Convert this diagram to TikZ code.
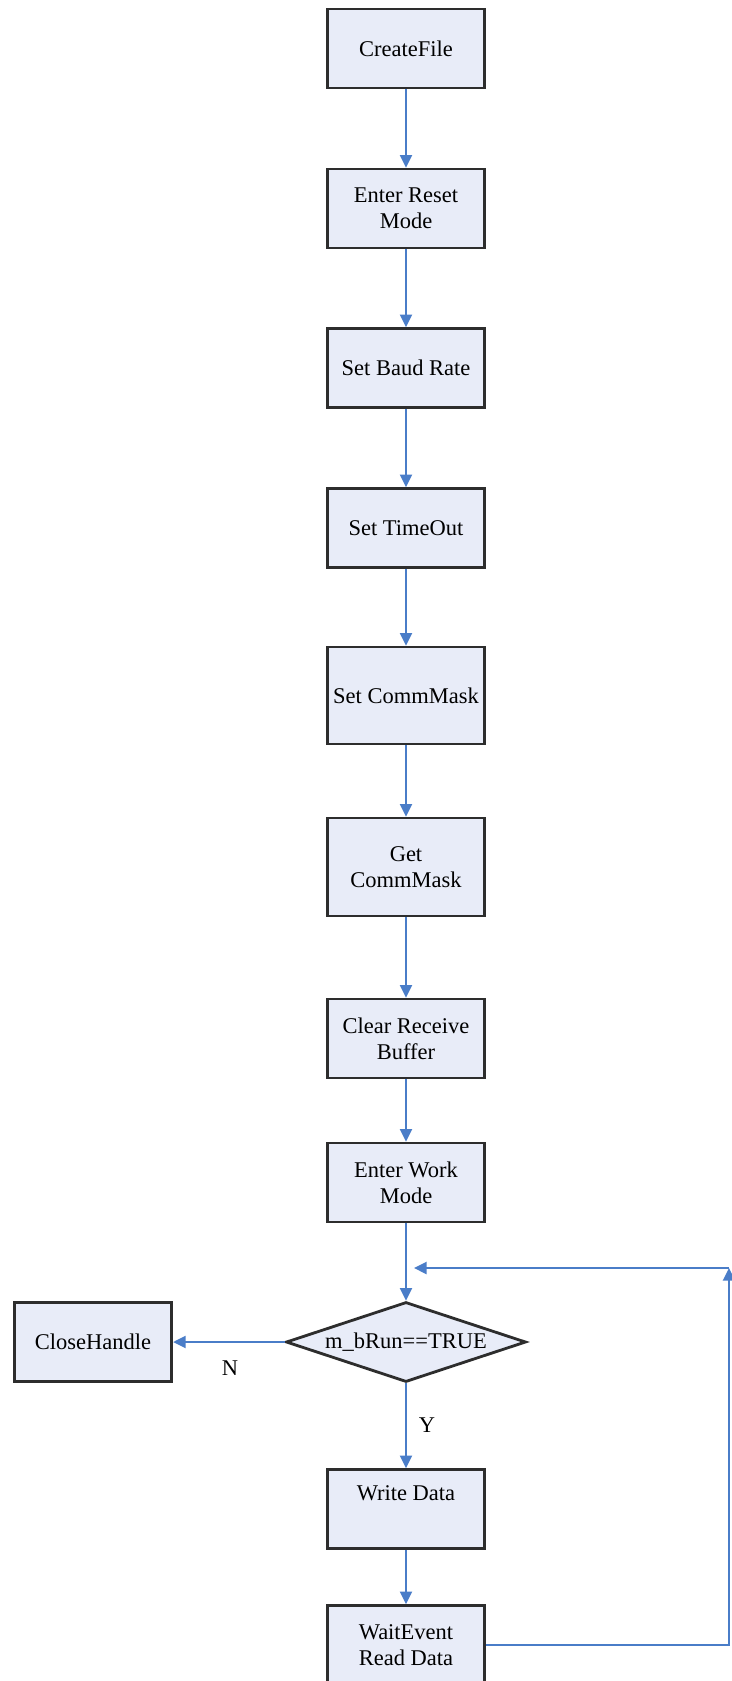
\documentclass[tikz,border=0pt]{standalone}
\usepackage{fontspec}
\setmainfont{Liberation Serif}
\usepackage{tikz}
\usetikzlibrary{arrows.meta,shapes.geometric}
\definecolor{boxfill}{RGB}{232,236,248}
\definecolor{boxline}{RGB}{45,45,45}
\definecolor{flowblue}{RGB}{74,125,200}
\tikzset{
  procbox/.style={draw=boxline,fill=boxfill,line width=1.6pt,
    minimum width=3.15cm,minimum height=1.58cm,align=center,inner sep=2pt,
    font=\fontsize{12.8}{14.7}\selectfont},
  testbox/.style={draw=boxline,fill=boxfill,line width=1.6pt,shape=diamond,
    aspect=3,inner sep=0pt,minimum width=4.8cm,minimum height=1.6cm,
    font=\fontsize{12.8}{14.7}\selectfont},
  flow/.style={draw=flowblue,line width=1.1pt,
    -{Triangle[length=0.25cm,width=0.24cm]}},
  tag/.style={font=\fontsize{12.8}{14.7}\selectfont}
}

\begin{document}
\begin{tikzpicture}[x=0.02cm,y=-0.02cm]
\useasboundingbox (0,0) rectangle (731,1681);
% main column
\node[procbox] (create) at (406,48.5) {CreateFile};
\node[procbox] (reset) at (406,208.5) {Enter Reset\\Mode};
\node[procbox] (baud) at (406,368) {Set Baud Rate};
\node[procbox] (timeout) at (406,528) {Set TimeOut};
\node[procbox,minimum height=1.94cm] (setmask) at (406,695.5) {Set CommMask};
\node[procbox,minimum height=1.96cm] (getmask) at (406,867) {Get\\CommMask};
\node[procbox] (clear) at (406,1038.5) {Clear Receive\\Buffer};
\node[procbox] (work) at (406,1182.5) {Enter Work\\Mode};
\node[testbox] (run) at (406,1342) {m\_bRun==TRUE};
\node[procbox] (close) at (93,1342) {CloseHandle};
\node[procbox] (write) at (406,1509) {\raisebox{0.28cm}[0.7em][0.2em]{Write Data}};
\node[procbox] (wait) at (406,1645) {WaitEvent\\Read Data};
% labels
\node[tag] (nlab) at (230,1368) {N};
\node[tag] (ylab) at (427,1425) {Y};
% loop back
\coordinate (loopR) at (729,1645);
\coordinate (loopT) at (729,1268);
\coordinate (loopL) at (414,1268);
% arrows
\draw[flow] (create) -- (reset);
\draw[flow] (reset) -- (baud);
\draw[flow] (baud) -- (timeout);
\draw[flow] (timeout) -- (setmask);
\draw[flow] (setmask) -- (getmask);
\draw[flow] (getmask) -- (clear);
\draw[flow] (clear) -- (work);
\draw[flow] (work) -- (run);
\draw[flow] (run.west) -- (close.east);
\draw[flow] (run.south) -- (write);
\draw[flow] (write) -- (wait);
\draw[flow] (wait.east) -- (loopR) -- (loopT);
\draw[flow] (loopT) -- (loopL);
\end{tikzpicture}
\end{document}
